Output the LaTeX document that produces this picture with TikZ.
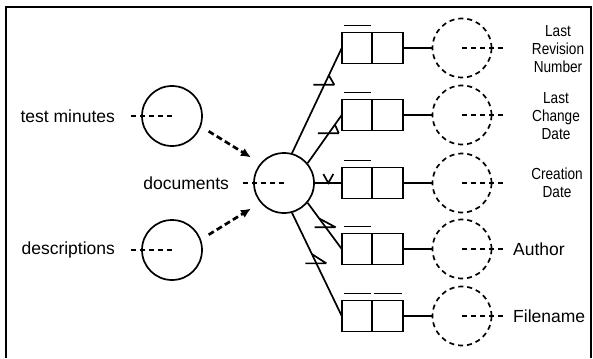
\documentclass[tikz,border=0pt]{standalone}
\usepackage{fontspec}
\setmainfont{Liberation Sans}
\newfontfamily\narrowsf[FakeStretch=0.85]{Liberation Sans}
\usetikzlibrary{positioning,arrows.meta}

\tikzset{
  ent/.style={draw, circle, minimum size=60pt, inner sep=0pt, line width=1.7pt},
  attr/.style={draw, circle, dash pattern=on 5pt off 4pt, minimum size=59pt, inner sep=0pt, line width=1.7pt},
  cell/.style={draw, minimum width=30.5pt, minimum height=31pt, inner sep=0pt, outer sep=0pt, line width=1.7pt},
  lbl/.style={inner sep=0pt, font=\fontsize{17.5}{18}\selectfont},
  slbl/.style={inner sep=0pt, align=center, font=\narrowsf\fontsize{16}{18}\selectfont},
  dashln/.style={dash pattern=on 5pt off 4pt, line width=1.5pt},
  conn/.style={line width=1.7pt},
  flow/.style={line width=2.7pt, dash pattern=on 6pt off 3.5pt, -{Latex[length=10pt,width=9pt]}},
}

\begin{document}
\begin{tikzpicture}[x=1pt,y=-1pt]
\useasboundingbox (0,0) rectangle (593,358);

  \draw[line width=2.4pt] (6,358) -- (6,7) -- (591,7) -- (591,358);

  \node[ent] (tm) at (172,116) {};
  \node[ent] (ds) at (172,250) {};
  \node[ent] (doc) at (284,183) {};

  \node[lbl, left=26pt of tm] (tml) {test minutes};
  \node[lbl, left=26pt of ds] (dsl) {descriptions};
  \node[lbl, left=24pt of doc] (docl) {documents};

  \draw[dashln] (tm.center) -- ([xshift=12pt]tml.east);
  \draw[dashln] (ds.center) -- ([xshift=12pt]dsl.east);
  \draw[dashln] (doc.center) -- ([xshift=12pt]docl.east);

  \draw[flow, shorten <=9pt, shorten >=11pt] (tm.-20) -- (doc.140);
  \draw[flow, shorten <=9pt, shorten >=11pt] (ds.20) -- (doc.220);

  \foreach \i/\y in {1/48,2/115,3/183,4/249,5/316} {
    \node[cell] (b\i) at (357,\y) {};
    \node[cell, right=0pt of b\i] (c\i) {};
    \node[attr] (a\i) at (462,\y) {};
    \draw[conn] (c\i.east) -- (a\i.west);
    \draw[dashln] (a\i.center) -- ++(41,0) coordinate (e\i);
    \draw[conn] ([xshift=2pt,yshift=7pt]b\i.north west) -- ([xshift=-1pt,yshift=7pt]b\i.north east);
  }
  \draw[conn] ([xshift=2pt,yshift=7pt]c5.north west) -- ([xshift=-1pt,yshift=7pt]c5.north east);

  \node[slbl] (l1) at (558,49) {Last\\Revision\\Number};
  \node[slbl] (l2) at (556,116) {Last\\Change\\Date};
  \node[slbl] (l3) at (557,183) {Creation\\Date};
  \node[lbl, anchor=west] (l4) at (513,249) {Author};
  \node[lbl, anchor=west] (l5) at (513,316) {Filename};

  % links from documents to the attribute boxes
  \draw[conn] (doc.75) -- coordinate[pos=.65] (m1) coordinate[pos=.74] (n1) (b1.west);
  \draw[conn] (doc.40) -- coordinate[pos=.62] (m2) coordinate[pos=.80] (n2) (b2.west);
  \draw[conn] (doc.east) -- coordinate[pos=.5] (m3) (b3.west);
  \draw[conn] (doc.-40) -- coordinate[pos=.53] (m4) coordinate[pos=.34] (n4) (b4.west);
  \draw[conn] (doc.-75) -- coordinate[pos=.49] (m5) coordinate[pos=.40] (n5) (b5.west);

  \foreach \j in {1,2,4,5}
    \draw[conn] ([xshift=-11pt]m\j) -- ([xshift=10pt]m\j) (n\j) -- ([xshift=10pt]m\j);
  \draw[conn] ([xshift=-5pt,yshift=9pt]m3) -- (m3) -- ([xshift=5pt,yshift=9pt]m3);
\end{tikzpicture}
\end{document}
